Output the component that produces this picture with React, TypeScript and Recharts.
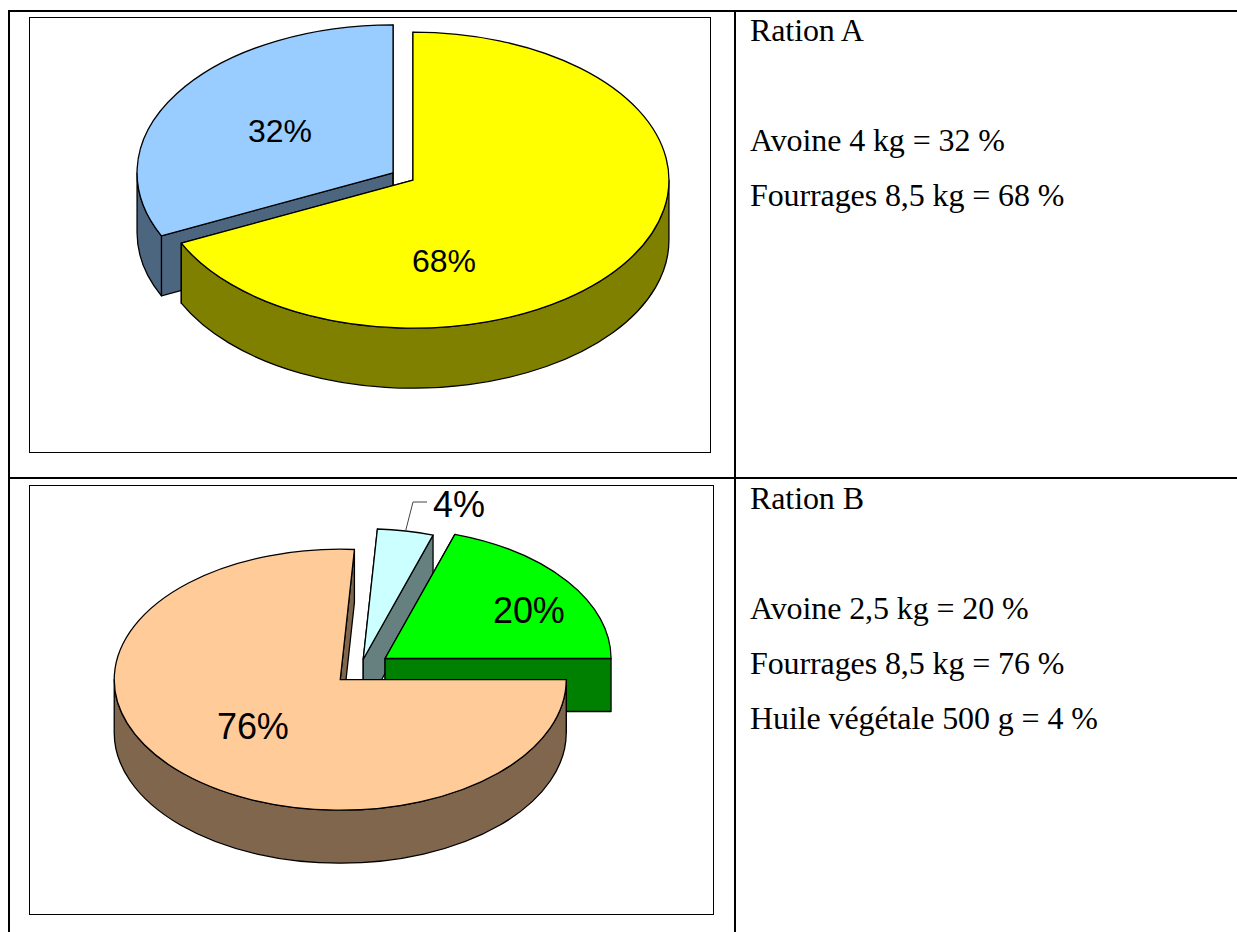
import { PieChart, Pie } from 'recharts'

// Ration A
const namesA = ['Avoine', 'Fourrages']
const valuesA = [32, 68]
const topColorsA = ['#99CCFF', '#FFFF00']
const wallColorsA = ['#4D6680', '#808000']
const explodeA = [0.046, 0.046]
const labelPosA = [[218, 113], [382, 243]]

// Ration B
const namesB = ['Huile végétale', 'Avoine', 'Fourrages']
const valuesB = [4, 20, 76]
const topColorsB = ['#CCFFFF', '#00FF00', '#FFCC99']
const wallColorsB = ['#668080', '#008000', '#80664D']
const explodeB = [0.076, 0.137, 0.12]
const labelPosB = [[403, 28], [463, 134], [187, 250]]

const noteLinesA = ['Avoine 4 kg = 32 %', 'Fourrages 8,5 kg = 68 %']
const noteLinesB = ['Avoine 2,5 kg = 20 %', 'Fourrages 8,5 kg = 76 %', 'Huile végétale 500 g = 4 %']

const RAD = Math.PI / 180

function build(names: string[], values: number[], tops: string[], walls: string[], explode: number[]) {
  return names.map((name, i) => ({ name, value: values[i], fill: tops[i], wall: walls[i], explode: explode[i] }))
}

// flat Sector replacement: an exploded slice of a tilted disc with its walls
function slice3d(tilt: number, depth: number) {
  return (p: any) => {
    const rx = p.outerRadius
    const ry = rx * tilt
    const mid = ((p.startAngle + p.endAngle) / 2) * RAD
    const ox = p.cx + Math.cos(mid) * p.explode * rx
    const oy = p.cy - Math.sin(mid) * p.explode * ry
    const pt = (deg: number) => [ox + rx * Math.cos(deg * RAD), oy - ry * Math.sin(deg * RAD)]
    const s = pt(p.startAngle)
    const e = pt(p.endAngle)
    const large = p.startAngle - p.endAngle > 180 ? 1 : 0
    const top = `M${ox},${oy}L${s[0]},${s[1]}A${rx},${ry} 0 ${large} 1 ${e[0]},${e[1]}Z`
    const radial = (q: number[]) =>
      `M${ox},${oy}L${q[0]},${q[1]}L${q[0]},${q[1] + depth}L${ox},${oy + depth}Z`

    // only the front half of the rim can be seen
    const rims: string[] = []
    for (const k of [-1, 0, 1]) {
      const from = Math.min(p.startAngle, 360 * k)
      const to = Math.max(p.endAngle, 360 * k - 180)
      if (from <= to) continue
      const a = pt(from)
      const b = pt(to)
      rims.push(
        `M${a[0]},${a[1]}A${rx},${ry} 0 0 1 ${b[0]},${b[1]}L${b[0]},${b[1] + depth}A${rx},${ry} 0 0 0 ${a[0]},${a[1] + depth}Z`,
      )
    }

    const line = { stroke: '#000', strokeWidth: 1.3, strokeLinejoin: 'round' as const }
    return (
      <g>
        <path d={radial(s)} fill={p.wall} {...line} />
        <path d={radial(e)} fill={p.wall} {...line} />
        {rims.map((d) => (
          <path key={d} d={d} fill={p.wall} {...line} />
        ))}
        <path d={top} fill={p.fill} {...line} />
      </g>
    )
  }
}

function pctLabel(pos: number[][], size: number, leaderIndex = -1, tilt = 1, explode: number[] = []) {
  return (p: any) => {
    const [x, y] = pos[p.index]
    let leader = null
    if (p.index === leaderIndex) {
      const rx = p.outerRadius
      const m = p.midAngle * RAD
      const ox = p.cx + Math.cos(m) * explode[p.index] * rx
      const oy = p.cy - Math.sin(m) * explode[p.index] * rx * tilt
      const sx = ox + rx * Math.cos(m)
      const sy = oy - rx * tilt * Math.sin(m)
      leader = <polyline points={`${sx},${sy} ${x - 20},${y - 2} ${x - 6},${y - 2}`} fill="none" stroke="#444" strokeWidth={1} />
    }
    return (
      <g>
        {leader}
        <text x={x} y={y} fontFamily="Liberation Sans" fontSize={size} fill="#000" dominantBaseline="central">
          {`${p.value}%`}
        </text>
      </g>
    )
  }
}

const dataA = build(namesA, valuesA, topColorsA, wallColorsA, explodeA)
const dataB = build(namesB, valuesB, topColorsB, wallColorsB, explodeB)

const TILT_A = 148 / 256
const TILT_B = 130.5 / 226

function Note({ title, lines, top }: { title: string; lines: string[]; top: number }) {
  const base = { position: 'absolute' as const, left: 750, whiteSpace: 'nowrap' as const, lineHeight: '32px' }
  return (
    <>
      <div style={{ ...base, top }}>{title}</div>
      {lines.map((l, i) => (
        <div key={l} style={{ ...base, top: top + 110 + i * 55 }}>{l}</div>
      ))}
    </>
  )
}

const rule = (left: number, top: number, width: number, height: number) => (
  <div style={{ position: 'absolute', left, top, width, height, background: '#000' }} />
)

export default function App() {
  return (
    <div
      style={{
        position: 'absolute', left: 0, top: 0, width: 1237, height: 932, overflow: 'hidden',
        background: '#fff', fontFamily: 'Liberation Serif', fontSize: 32, letterSpacing: -0.1, color: '#000',
      }}
    >
      {rule(8, 10, 1229, 2)}
      {rule(8, 477, 1229, 2)}
      {rule(8, 10, 2, 922)}
      {rule(734, 10, 2, 922)}

      <div style={{ position: 'absolute', left: 29, top: 17, width: 682, height: 436, boxSizing: 'border-box', border: '1px solid #000' }}>
        <PieChart width={680} height={434} margin={{ top: 0, right: 0, bottom: 0, left: 0 }}>
          <Pie
            data={dataA}
            dataKey="value"
            nameKey="name"
            cx={373}
            cy={158.5}
            outerRadius={256}
            startAngle={205.2}
            endAngle={-154.8}
            stroke="none"
            shape={slice3d(TILT_A, 60)}
            label={pctLabel(labelPosA, 32)}
            labelLine={false}
            isAnimationActive={false}
          />
        </PieChart>
      </div>

      <div style={{ position: 'absolute', left: 29, top: 485, width: 685, height: 430, boxSizing: 'border-box', border: '1px solid #000' }}>
        {/* the chart starts above the frame so that the 4% label keeps its full box */}
        <div style={{ position: 'absolute', left: 0, top: -10 }}>
          <PieChart width={683} height={438} margin={{ top: 0, right: 0, bottom: 0, left: 0 }}>
            <Pie
              data={dataB}
              dataKey="value"
              nameKey="name"
              cx={330}
              cy={193}
              outerRadius={226}
              startAngle={86.4}
              endAngle={-273.6}
              stroke="none"
              shape={slice3d(TILT_B, 53)}
              label={pctLabel(labelPosB, 36, 0, TILT_B, explodeB)}
              labelLine={false}
              isAnimationActive={false}
            />
          </PieChart>
        </div>
      </div>

      <Note title="Ration A" lines={noteLinesA} top={14} />
      <Note title="Ration B" lines={noteLinesB} top={482} />
    </div>
  )
}
